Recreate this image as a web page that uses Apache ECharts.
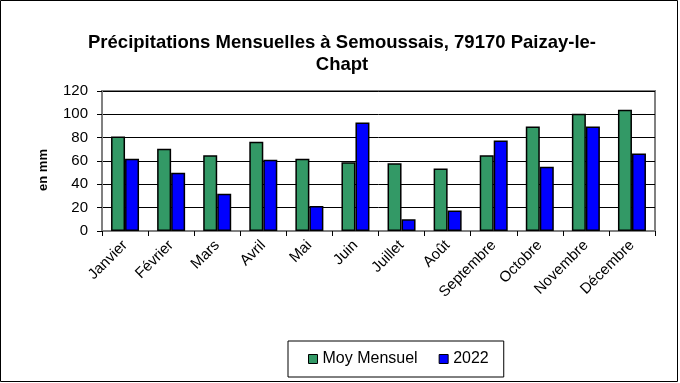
<!DOCTYPE html>
<html><head><meta charset="utf-8">
<script src="https://cdn.jsdelivr.net/npm/echarts@6/dist/echarts.min.js"></script>
<style>html,body{margin:0;padding:0;background:#fff}#c{width:680px;height:383px}</style>
</head><body><div id="c"></div>
<script>
const categories = ['Janvier','Février','Mars','Avril','Mai','Juin','Juillet','Août','Septembre','Octobre','Novembre','Décembre'];
const moyMensuel = [81, 70.5, 65, 76.5, 62, 59, 58, 53.5, 65, 89.5, 100.5, 104];
const values2022 = [62, 50, 32, 61, 21.5, 93, 10, 17.5, 77.5, 55, 89.5, 66.5];
const yTicks = [0, 20, 40, 60, 80, 100, 120];
const titleText = 'Précipitations Mensuelles à Semoussais, 79170 Paizay-le-\nChapt';
const yName = 'en mm';

const chart = echarts.init(document.getElementById('c'), null, {renderer:'canvas'});
const font = 'Liberation Sans, Arial, sans-serif';
chart.setOption({
  animation:false,
  backgroundColor:'#fff',
  title:{text:titleText,left:337,textAlign:'center',top:27,
    textStyle:{fontFamily:font,fontSize:18.5,fontWeight:'bold',color:'#000',lineHeight:22}},
  graphic:[
    {type:'rect',shape:{x:0.5,y:0.5,width:677,height:381},style:{fill:'none',stroke:'#000',lineWidth:1},silent:true},
    {type:'rect',shape:{x:102,y:91,width:553,height:140},style:{fill:'none',stroke:'#808080',lineWidth:2},silent:true,z:0},
    {type:'text',x:43,y:170,rotation:Math.PI/2,
      style:{text:yName,fontFamily:font,fontSize:13,fontWeight:'bold',fill:'#000',align:'center',verticalAlign:'middle'},silent:true}
  ],
  legend:{bottom:6,left:288,padding:[10,15,10,20],itemGap:21,
    borderColor:'#000',borderWidth:1,itemWidth:9,itemHeight:9,icon:'rect',
    itemStyle:{borderColor:'#000',borderWidth:1},
    textStyle:{fontFamily:font,fontSize:16,color:'#000'},
    data:['Moy Mensuel','2022']},
  grid:{left:102,right:25,top:91,bottom:152},
  xAxis:{type:'category',data:categories,
    axisLine:{lineStyle:{color:'#808080',width:2}},
    axisTick:{show:true,length:5,lineStyle:{color:'#000',width:1}},
    axisLabel:{rotate:45,interval:0,fontFamily:font,fontSize:15,color:'#000',margin:12}},
  yAxis:{type:'value',min:0,max:120,interval:20,
    axisLine:{show:true,lineStyle:{color:'#808080',width:2}},
    axisTick:{show:true,length:5,lineStyle:{color:'#000'}},
    splitLine:{lineStyle:{color:'#000',width:1}},
    axisLabel:{fontFamily:font,fontSize:15,color:'#000',margin:14,
      formatter:v=>yTicks.includes(v)?String(v):''}},
  series:[
    {name:'Moy Mensuel',type:'bar',data:moyMensuel,barWidth:14,barGap:'0%',
      itemStyle:{color:'#339966',borderColor:'#000',borderWidth:1.5}},
    {name:'2022',type:'bar',data:values2022,barWidth:14,barGap:'0%',
      itemStyle:{color:'#0000FF',borderColor:'#000',borderWidth:1.5}}
  ]
});
</script></body></html>
